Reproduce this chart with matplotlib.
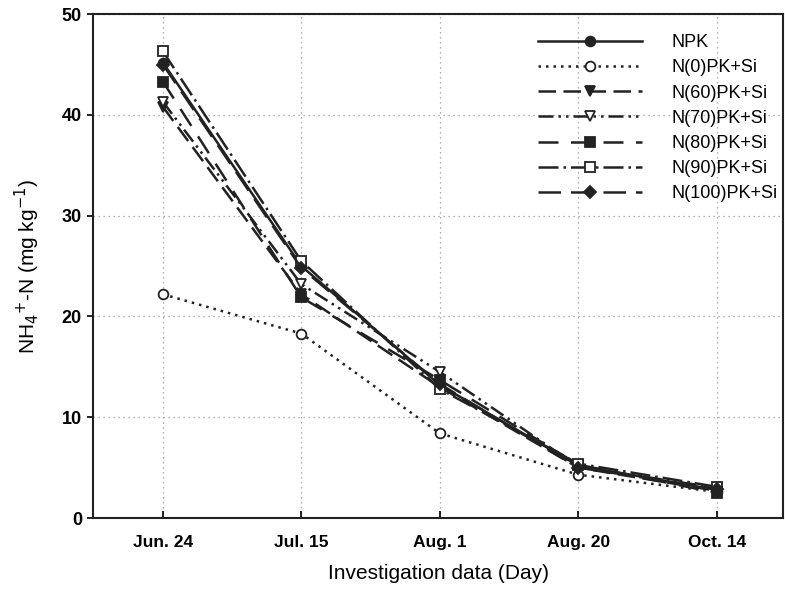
import matplotlib
matplotlib.use("Agg")
import matplotlib.pyplot as plt

plt.rcParams['font.family'] = ['Liberation Sans', 'DejaVu Sans']

dates = ['Jun. 24', 'Jul. 15', 'Aug. 1', 'Aug. 20', 'Oct. 14']
labels = ['NPK', 'N(0)PK+Si', 'N(60)PK+Si', 'N(70)PK+Si', 'N(80)PK+Si', 'N(90)PK+Si', 'N(100)PK+Si']
npk = [45.2, 25.0, 13.2, 5.2, 2.8]
n0 = [22.2, 18.3, 8.4, 4.3, 2.6]
n60 = [40.8, 22.2, 13.0, 5.0, 2.7]
n70 = [41.3, 23.2, 14.5, 5.1, 3.0]
n80 = [43.3, 21.9, 13.7, 5.3, 2.5]
n90 = [46.3, 25.5, 12.8, 5.4, 3.1]
n100 = [45.0, 24.8, 13.3, 5.0, 2.9]
series = [npk, n0, n60, n70, n80, n90, n100]

styles = [
    dict(ls='-', marker='o', mfc='#222222'),
    dict(ls=(0, (1, 2)), marker='o', mfc='white'),
    dict(ls=(0, (7, 3)), marker='v', mfc='#222222'),
    dict(ls=(0, (6, 2, 1, 2, 1, 2)), marker='v', mfc='white'),
    dict(ls=(0, (8, 5)), marker='s', mfc='#222222'),
    dict(ls=(0, (8, 2, 1, 2)), marker='s', mfc='white'),
    dict(ls=(0, (9, 4)), marker='D', mfc='#222222'),
]

fig = plt.figure(figsize=(7.85, 5.89), dpi=100)
ax = fig.add_axes([0.1185, 0.1205, 0.879, 0.8555])
x = list(range(len(dates)))
for vals, lab, st in zip(series, labels, styles):
    ax.plot(x, vals, color='#222222', lw=1.8, ls=st['ls'], marker=st['marker'],
            mfc=st['mfc'], mec='#222222', ms=7 if st['marker'] != 'D' else 6,
            mew=1.3, label=lab)

ax.set_xlim(-0.505, 4.48)
ax.set_ylim(0, 50)
ax.set_xticks(x)
ax.set_xticklabels(dates, fontsize=12.5, fontweight='bold')
ax.set_yticks([0, 10, 20, 30, 40, 50])
ax.set_yticklabels(['0', '10', '20', '30', '40', '50'], fontsize=13, fontweight='bold')
ax.tick_params(axis='x', direction='in', length=5, width=1.2, pad=12)
ax.tick_params(axis='y', direction='out', length=4, width=1.2, pad=4)
ax.grid(True, ls=(0, (1, 3)), color='#999999', lw=0.9)
for s in ax.spines.values():
    s.set_linewidth(1.5)
    s.set_color('#222222')

ax.set_xlabel('Investigation data (Day)', fontsize=15, labelpad=10)
ax.set_ylabel('NH$_4$$^{+}$-N (mg kg$^{-1}$)', fontsize=15, labelpad=14)

leg = ax.legend(loc='upper right', frameon=False, fontsize=13, handlelength=5.8,
                handletextpad=1.6, labelspacing=0.45, borderaxespad=0.3,
                bbox_to_anchor=(1.01, 0.985))

fig.savefig('out.png', dpi=100)
